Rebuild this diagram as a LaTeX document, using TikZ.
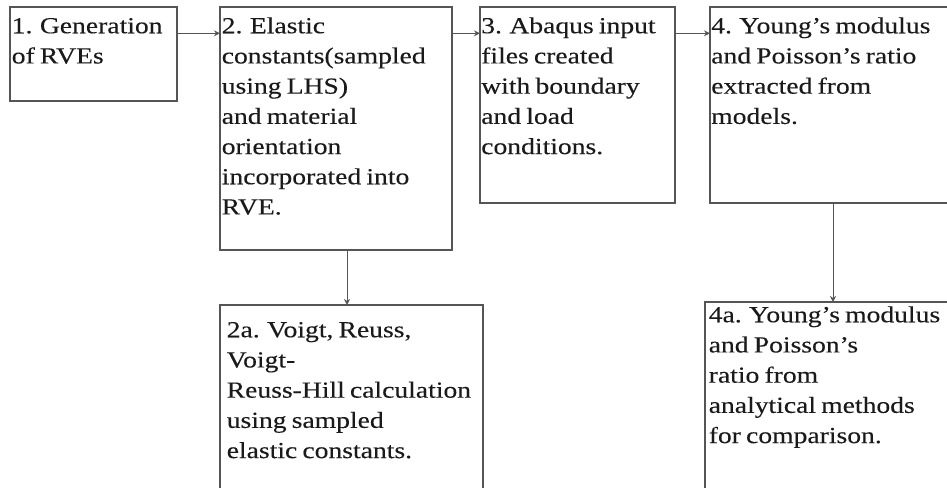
\documentclass[tikz,border=0pt]{standalone}
\usepackage{fontspec}
\setmainfont[FakeStretch=1.2,WordSpace=0.75,FakeBold=0.2]{Liberation Serif}
\usetikzlibrary{arrows.meta}
\definecolor{edge}{HTML}{555555}
\definecolor{ink}{HTML}{1A1A1A}
\tikzset{
  box/.style={draw=edge, line width=0.8pt, inner sep=0pt, outer sep=0pt, anchor=north west},
  txt/.style={anchor=north west, inner sep=0pt, align=left, text=ink,
              font=\fontsize{17.25pt}{22.65pt}\selectfont},
  arr/.style={draw=edge, line width=0.75pt, -{Stealth[length=4.5pt,width=4.5pt]}},
}
\begin{document}
\begin{tikzpicture}[x=0.75pt,y=-0.75pt]
\useasboundingbox (0,0) rectangle (947,488);
\fill[white] (0,0) rectangle (947,488);
\clip (0,0) rectangle (947,488);

% boxes
\node[box, minimum width={167*0.75pt}, minimum height={94*0.75pt}]  (b1)  at (10,7)  {};
\node[box, minimum width={232*0.75pt}, minimum height={243*0.75pt}] (b2)  at (220,7) {};
\node[box, minimum width={195*0.75pt}, minimum height={196*0.75pt}] (b3)  at (480,7) {};
\node[box, minimum width={270*0.75pt}, minimum height={196*0.75pt}] (b4)  at (710,7) {};
\node[box, minimum width={263*0.75pt}, minimum height={215*0.75pt}] (b2a) at (220,305) {};
\node[box, minimum width={275*0.75pt}, minimum height={218*0.75pt}] (b4a) at (705,302) {};

% texts (first baseline 26px below node top via strut)
\node[txt] (t1) at (11.5,7) {\rule{0pt}{19.5pt}1. Generation\\of RVEs};
\node[txt] (t2) at (221.5,7) {\rule{0pt}{19.5pt}2. Elastic\\constants(sampled\\using LHS)\\and material\\orientation\\incorporated into\\RVE.};
\node[txt] (t3) at (481,7) {\rule{0pt}{19.5pt}3. Abaqus input\\files created\\with boundary\\and load\\conditions.};
\node[txt] (t4) at (711,7) {\rule{0pt}{19.5pt}4. Young’s modulus\\and Poisson’s ratio\\extracted from\\models.};
\node[txt] (t2a) at (226.5,311) {\rule{0pt}{19.5pt}2a. Voigt, Reuss,\\Voigt-\\Reuss-Hill calculation\\using sampled\\elastic constants.};
\node[txt] (t4a) at (708.5,296) {\rule{0pt}{19.5pt}4a. Young’s modulus\\and Poisson’s\\ratio from\\analytical methods\\for comparison.};

% connectors
\coordinate (row) at (0,33.3);
\coordinate (c2) at (347,0);
\coordinate (c4) at (833,0);
\draw[arr] (b1.east |- row) -- (b2.west |- row);
\draw[arr] (b2.east |- row) -- (b3.west |- row);
\draw[arr] (b3.east |- row) -- (b4.west |- row);
\draw[arr] (b2.south -| c2) -- (b2a.north -| c2);
\draw[arr] (b4.south -| c4) -- (b4a.north -| c4);
\end{tikzpicture}
\end{document}
